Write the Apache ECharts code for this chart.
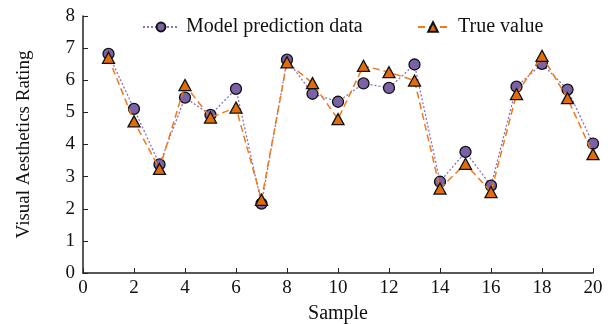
<!DOCTYPE html>
<html>
<head>
<meta charset="utf-8">
<script src="https://cdn.jsdelivr.net/npm/echarts@6/dist/echarts.min.js"></script>
<style>
  html, body { margin: 0; padding: 0; background: #fff; }
  #main { width: 613px; height: 324px; }
</style>
</head>
<body>
<div id="main"></div>
<script>
var samples = [1, 2, 3, 4, 5, 6, 7, 8, 9, 10, 11, 12, 13, 14, 15, 16, 17, 18, 19, 20]
var modelPrediction = [6.82, 5.11, 3.38, 5.46, 4.92, 5.73, 2.16, 6.64, 5.58, 5.33, 5.9, 5.76, 6.49, 2.84, 3.77, 2.72, 5.8, 6.51, 5.71, 4.03]
var trueValue = [6.7, 4.72, 3.24, 5.85, 4.84, 5.15, 2.28, 6.56, 5.91, 4.79, 6.45, 6.25, 5.99, 2.63, 3.4, 2.52, 5.57, 6.76, 5.44, 3.7]

function pairs (ys) {
  return samples.map(function (x, i) { return [x, ys[i]] })
}

var font = 'Liberation Serif'
var legendText = { fontFamily: font, fontSize: 20, color: '#111' }
var myChart = echarts.init(document.getElementById('main'))
myChart.setOption({
  animation: false,
  grid: {
    top: 16,
    left: 83,
    right: 20,
    bottom: 51,
    outerBoundsMode: 'none'
  },
  legend: [{
    top: 12,
    left: 137,
    itemWidth: 36,
    itemHeight: 11,
    textStyle: Object.assign({ padding: [0, 0, 0, 2] }, legendText),
    data: ['Model prediction data']
  }, {
    top: 12,
    left: 412,
    itemWidth: 30,
    itemHeight: 12,
    textStyle: Object.assign({ padding: [0, 0, 0, 5] }, legendText),
    data: ['True value']
  }],
  xAxis: {
    type: 'value',
    min: 0,
    max: 20,
    interval: 2,
    name: 'Sample',
    nameLocation: 'middle',
    nameGap: 31,
    nameTextStyle: { fontFamily: font, fontSize: 20, color: '#111' },
    axisLine: { lineStyle: { color: '#222', width: 1.5 } },
    axisTick: { inside: true, length: 5, lineStyle: { color: '#222' } },
    axisLabel: { fontFamily: font, fontSize: 19, color: '#111', margin: 6 },
    splitLine: { show: false }
  },
  yAxis: {
    type: 'value',
    min: 0,
    max: 8,
    interval: 1,
    name: 'Visual Aesthetics Rating',
    nameLocation: 'middle',
    nameGap: 49,
    nameTextStyle: { fontFamily: font, fontSize: 19, color: '#111' },
    axisLine: { show: true, lineStyle: { color: '#222', width: 1.5 } },
    axisTick: { show: true, inside: true, length: 5, lineStyle: { color: '#222' } },
    axisLabel: { fontFamily: font, fontSize: 19, color: '#111', margin: 8 },
    splitLine: { show: false }
  },
  series: [
    {
      name: 'Model prediction data',
      type: 'line',
      symbol: 'circle',
      symbolSize: 11,
      z: 3,
      data: pairs(modelPrediction),
      lineStyle: { color: '#8c72c4', width: 1.3, type: [2, 2] },
      itemStyle: { color: '#7b62a6', borderColor: '#111', borderWidth: 1.3 }
    },
    {
      name: 'True value',
      type: 'line',
      symbol: 'triangle',
      symbolSize: [12, 11],
      z: 4,
      data: pairs(trueValue),
      lineStyle: { color: '#ee7a1c', width: 1.5, type: [7, 4] },
      itemStyle: { color: '#e36c0a', borderColor: '#111', borderWidth: 1.3 }
    }
  ]
})
</script>
</body>
</html>
